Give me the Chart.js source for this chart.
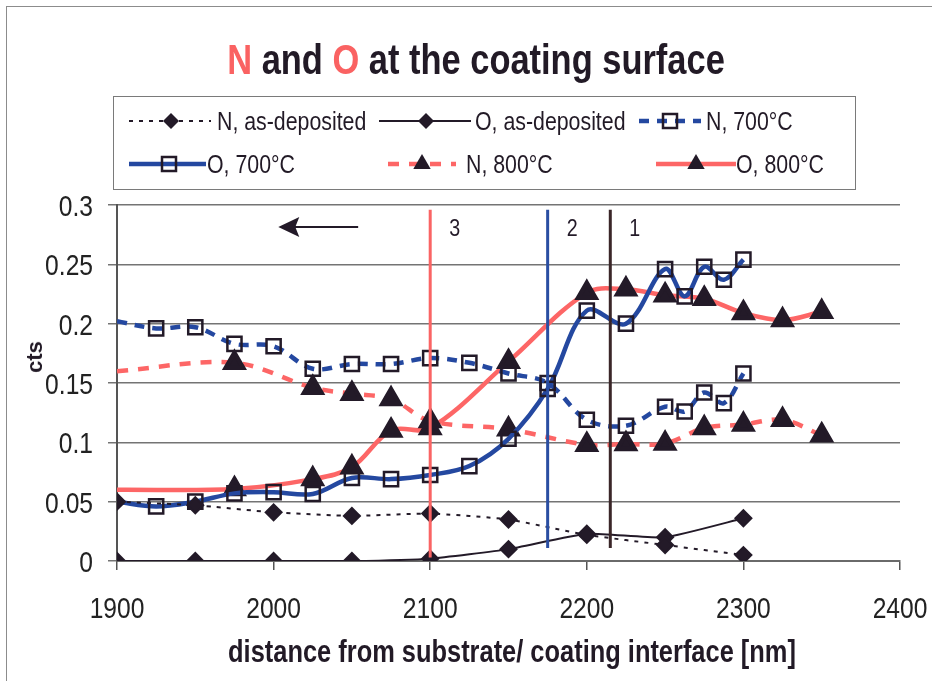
<!DOCTYPE html>
<html>
<head>
<meta charset="utf-8">
<script src="https://cdn.jsdelivr.net/npm/chart.js@4.4.1/dist/chart.umd.min.js"></script>
<style>
  body { margin: 0; background: #fff; }
  #wrap { position: relative; width: 932px; height: 681px; overflow: hidden;
          font-family: 'Liberation Sans', Arial, sans-serif; color: #221a26; }
  #frame { position: absolute; left: 6px; top: 6px; width: 960px; height: 720px; border: 1px solid #8c8c8c; }
  #title { position: absolute; left: 0; top: 35px; width: 952px; text-align: center;
           font-weight: bold; font-size: 42px; line-height: 50px; white-space: nowrap;
           transform: scaleX(0.82); transform-origin: 476px 0; }
  #title .hl { color: #fa6262; }
  #xtitle { position: absolute; left: 0; top: 634px; width: 1024px; text-align: center;
            font-weight: bold; font-size: 31px; line-height: 36px; white-space: nowrap;
            transform: scaleX(0.82); transform-origin: 512px 0; }
  #legend { position: absolute; left: 113px; top: 96px; width: 741px; height: 92px; border: 1px solid #7a7a7a; }
  #legend span { position: absolute; font-size: 26px; line-height: 28px; white-space: nowrap;
                 transform: scaleX(0.82); transform-origin: 0 0; }
  #legend svg { position: absolute; left: 0; top: 0; }
  #ytitle { position: absolute; left: 35px; top: 357px; transform: translate(-50%, -50%) rotate(-90deg);
            font-weight: bold; font-size: 22px; line-height: 24px; }
  canvas { position: absolute; left: 0; top: 0; }
</style>
</head>
<body>
<div id="wrap">
  <div id="frame"></div>
  <canvas id="chart" width="932" height="681"></canvas>
  <div id="title"><span class="hl">N</span> and <span class="hl">O</span> at the coating surface</div>
  <div id="legend"></div>
  <div id="ytitle">cts</div>
  <div id="xtitle">distance from substrate/ coating interface [nm]</div>
</div>
<script>
// distance from substrate/coating interface [nm]
const xAsDep = [1900, 1950, 2000, 2050, 2100, 2150, 2200, 2250, 2300];
const nAsDep = [0.050, 0.047, 0.041, 0.038, 0.040, 0.035, 0.022, 0.0135, 0.005];
const oAsDep = [0, 0, 0, 0, 0.002, 0.010, 0.023, 0.020, 0.036];

const x700 = [1900, 1925, 1950, 1975, 2000, 2025, 2050, 2075, 2100, 2125, 2150, 2175, 2200, 2225, 2250, 2262.5, 2275, 2287.5, 2300];
const n700 = [0.202, 0.196, 0.197, 0.183, 0.181, 0.162, 0.166, 0.166, 0.171, 0.167, 0.158, 0.150, 0.119, 0.114, 0.130, 0.126, 0.142, 0.133, 0.158];
const o700 = [0.050, 0.046, 0.050, 0.057, 0.058, 0.0565, 0.070, 0.069, 0.0725, 0.080, 0.103, 0.145, 0.211, 0.200, 0.246, 0.223, 0.248, 0.237, 0.254];

const x800 = [1900, 1975, 2025, 2050, 2075, 2100, 2150, 2200, 2225, 2250, 2275, 2300, 2325, 2350];
const n800 = [0.160, 0.167, 0.146, 0.141, 0.1365, 0.118, 0.111, 0.098, 0.0986, 0.099, 0.112, 0.115, 0.119, 0.106];
const o800 = [0.060, 0.0607, 0.069, 0.079, 0.110, 0.112, 0.168, 0.226, 0.229, 0.224, 0.221, 0.209, 0.203, 0.210];

const xTicks = [1900, 2000, 2100, 2200, 2300, 2400];
const xTickLabels = ['1900', '2000', '2100', '2200', '2300', '2400'];
const yTicks = [0, 0.05, 0.1, 0.15, 0.2, 0.25, 0.3];
const yTickLabels = ['0', '0.05', '0.1', '0.15', '0.2', '0.25', '0.3'];

// vertical markers drawn on the plot
const markerX = [2100, 2175, 2215];
const markerLabels = ['3', '2', '1'];

const FONT = "'Liberation Sans', Arial, sans-serif";
const NARROW = 0.82;
const INK = '#231a28';
const BLUE = '#2448a0';
const RED = '#fd6666';

function pts(xs, ys) {
  return xs.map((x, i) => ({ x: x, y: ys[i] }));
}
// first point of the annealed series sits on the axis without a marker
function radii(n, r) {
  return Array.from({ length: n }, (_, i) => i === 0 ? 0 : r);
}

const series = [
  { label: 'N, as-deposited', data: pts(xAsDep, nAsDep), borderColor: INK, borderWidth: 2, borderDash: [4, 6],
    pointStyle: 'rectRot', pointRadius: 8, pointBackgroundColor: INK, pointBorderColor: INK, tension: 0.15 },
  { label: 'O, as-deposited', data: pts(xAsDep, oAsDep), borderColor: INK, borderWidth: 2,
    pointStyle: 'rectRot', pointRadius: 8, pointBackgroundColor: INK, pointBorderColor: INK, tension: 0.15 },
  { label: 'N, 700°C', data: pts(x700, n700), borderColor: BLUE, borderWidth: 4.5, borderDash: [10, 8],
    pointStyle: 'rect', pointRadius: radii(x700.length, 10), pointBackgroundColor: 'rgba(0,0,0,0)',
    pointBorderColor: INK, pointBorderWidth: 2.5, tension: 0.35 },
  { label: 'O, 700°C', data: pts(x700, o700), borderColor: BLUE, borderWidth: 4.5,
    pointStyle: 'rect', pointRadius: radii(x700.length, 10), pointBackgroundColor: 'rgba(0,0,0,0)',
    pointBorderColor: INK, pointBorderWidth: 2.5, tension: 0.35 },
  { label: 'N, 800°C', data: pts(x800, n800), borderColor: RED, borderWidth: 4.5, borderDash: [11, 10],
    pointStyle: 'triangle', pointRadius: radii(x800.length, 10), pointBackgroundColor: INK,
    pointBorderColor: INK, tension: 0.35 },
  { label: 'O, 800°C', data: pts(x800, o800), borderColor: RED, borderWidth: 4.5,
    pointStyle: 'triangle', pointRadius: radii(x800.length, 10), pointBackgroundColor: INK,
    pointBorderColor: INK, tension: 0.35 }
];

// draws text squeezed horizontally, like the narrow font of the original
function narrowText(ctx, text, x, y, align) {
  ctx.save();
  ctx.translate(x, y);
  ctx.scale(NARROW, 1);
  ctx.textAlign = align;
  ctx.fillText(text, 0, 0);
  ctx.restore();
}

const overlay = {
  id: 'overlay',
  afterDatasetsDraw(chart) {
    const { ctx, scales: { x, y } } = chart;
    const colors = ['#fa6464', '#2a4ea2', '#3a2628'];
    const bottoms = [0.003, 0.011, 0.011];
    ctx.save();
    markerX.forEach((v, i) => {
      const px = x.getPixelForValue(v);
      ctx.strokeStyle = colors[i];
      ctx.lineWidth = 3;
      ctx.beginPath();
      ctx.moveTo(px, y.getPixelForValue(0.296));
      ctx.lineTo(px, y.getPixelForValue(bottoms[i]));
      ctx.stroke();
      ctx.fillStyle = INK;
      ctx.font = '24px ' + FONT;
      ctx.textBaseline = 'alphabetic';
      narrowText(ctx, markerLabels[i], px + 19, y.getPixelForValue(0.2815) + 9, 'left');
    });
    // arrow pointing towards the substrate
    const ay = y.getPixelForValue(0.2815);
    const ax0 = x.getPixelForValue(2054), ax1 = x.getPixelForValue(2003);
    ctx.strokeStyle = INK;
    ctx.lineWidth = 2;
    ctx.beginPath();
    ctx.moveTo(ax0, ay);
    ctx.lineTo(ax1 + 16, ay);
    ctx.stroke();
    ctx.fillStyle = INK;
    ctx.beginPath();
    ctx.moveTo(ax1, ay);
    ctx.lineTo(ax1 + 21, ay - 10);
    ctx.lineTo(ax1 + 17, ay);
    ctx.lineTo(ax1 + 21, ay + 10);
    ctx.closePath();
    ctx.fill();

    // tick labels, placed through the scales
    ctx.fillStyle = '#222';
    ctx.font = '30px ' + FONT;
    ctx.textBaseline = 'alphabetic';
    x.ticks.forEach((t, i) => {
      narrowText(ctx, xTickLabels[i], x.getPixelForValue(t.value), x.top + 57, 'center');
    });
    y.ticks.forEach((t, i) => {
      narrowText(ctx, yTickLabels[i], y.right - 24, y.getPixelForValue(t.value) + 11, 'right');
    });
    ctx.restore();
  }
};

new Chart(document.getElementById('chart').getContext('2d'), {
  type: 'line',
  data: { datasets: series },
  options: {
    responsive: false,
    animation: false,
    layout: { padding: { top: 205, right: 32, left: 0, bottom: 0 } },
    plugins: { legend: { display: false }, tooltip: { enabled: false } },
    scales: {
      x: {
        type: 'linear', min: 1900, max: 2400,
        afterBuildTicks: s => { s.ticks = xTicks.map(v => ({ value: v })); },
        afterFit: s => { s.height = 120; },
        grid: { drawOnChartArea: false, tickLength: 9, color: '#555', lineWidth: 1.5 },
        border: { color: '#6a6a6a', width: 2 },
        ticks: { display: false }
      },
      y: {
        min: 0, max: 0.3,
        afterBuildTicks: s => { s.ticks = yTicks.map(v => ({ value: v })); },
        afterFit: s => { s.width = 117; },
        grid: { color: '#747474', lineWidth: 1.5, tickLength: 9 },
        border: { color: '#555', width: 2 },
        ticks: { display: false }
      }
    }
  },
  plugins: [overlay]
});

// legend: two rows of three entries, drawn as html with svg samples
const legendPos = [
  { x0: 15, x1: 97, m: 57, tx: 103, row: 0 },
  { x0: 265, x1: 357, m: 312, tx: 361, row: 0 },
  { x0: 525, x1: 587, m: 556, tx: 592, row: 0 },
  { x0: 15, x1: 92, m: 55, tx: 93, row: 1 },
  { x0: 274, x1: 342, m: 308, tx: 352, row: 1 },
  { x0: 542, x1: 622, m: 582, tx: 622, row: 1 }
];
const rowY = [24, 67];
const legend = document.getElementById('legend');
let svg = '<svg width="741" height="92" xmlns="http://www.w3.org/2000/svg">';
series.forEach((s, i) => {
  const p = legendPos[i], cy = rowY[p.row];
  const dash = s.borderDash ? ' stroke-dasharray="' + s.borderDash.join(',') + '"' : '';
  svg += '<line x1="' + p.x0 + '" y1="' + cy + '" x2="' + p.x1 + '" y2="' + cy + '" stroke="' + s.borderColor +
         '" stroke-width="' + s.borderWidth + '"' + dash + '/>';
  if (s.pointStyle === 'rectRot') {
    svg += '<polygon points="' + p.m + ',' + (cy - 8) + ' ' + (p.m + 8) + ',' + cy + ' ' + p.m + ',' + (cy + 8) + ' ' + (p.m - 8) + ',' + cy + '" fill="' + INK + '"/>';
  } else if (s.pointStyle === 'rect') {
    svg += '<rect x="' + (p.m - 7) + '" y="' + (cy - 7) + '" width="14" height="14" fill="none" stroke="' + INK + '" stroke-width="2.5"/>';
  } else {
    svg += '<polygon points="' + p.m + ',' + (cy - 10) + ' ' + (p.m + 8.7) + ',' + (cy + 5) + ' ' + (p.m - 8.7) + ',' + (cy + 5) + '" fill="' + INK + '"/>';
  }
});
svg += '</svg>';
legend.innerHTML = svg;
series.forEach((s, i) => {
  const p = legendPos[i];
  const el = document.createElement('span');
  el.textContent = s.label;
  el.style.left = p.tx + 'px';
  el.style.top = (rowY[p.row] - 14) + 'px';
  legend.appendChild(el);
});
</script>
</body>
</html>
